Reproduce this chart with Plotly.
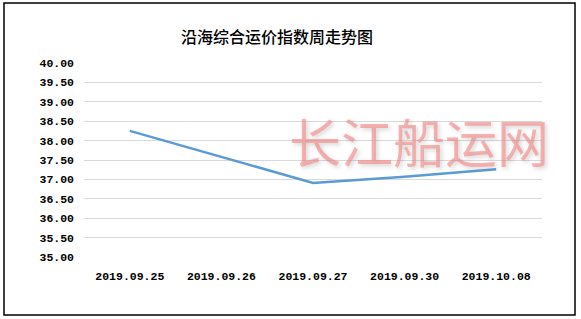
import plotly.graph_objects as go

categories = ["2019.09.25", "2019.09.26", "2019.09.27", "2019.09.30", "2019.10.08"]
values = [38.25, 37.58, 36.91, 37.07, 37.26]
y_ticks = [35.0, 35.5, 36.0, 36.5, 37.0, 37.5, 38.0, 38.5, 39.0, 39.5, 40.0]
title_text = "沿海综合运价指数周走势图"
watermark = "长江船运网"

W, H = 581, 319
L, R, T, B = 84, 542, 63, 257
pw, ph = R - L, B - T

fig = go.Figure()
fig.add_trace(go.Scatter(
    x=categories, y=values, mode="lines",
    line=dict(color="#5b9bd5", width=2.5),
    hoverinfo="skip", showlegend=False,
))

tick_font = dict(family="Liberation Mono, DejaVu Sans Mono, monospace", size=11.5,
                 color="#000", weight="bold")

fig.update_layout(
    width=W, height=H,
    margin=dict(l=L, r=W - R, t=T, b=H - B, pad=0),
    paper_bgcolor="white", plot_bgcolor="white",
    title=dict(text=title_text, x=(277) / W, xanchor="center", y=1 - 37 / H, yanchor="middle",
               font=dict(family="Noto Sans CJK SC", size=16, color="#000", weight=500)),
    xaxis=dict(type="category", range=[-0.5, 4.5], showgrid=False, zeroline=False,
               showline=False, ticks="", tickfont=tick_font, ticklabelstandoff=10),
    yaxis=dict(range=[35, 40], tickvals=y_ticks, ticktext=[f"{v:.2f}" for v in y_ticks],
               showgrid=True, gridcolor="#d9d9d9", gridwidth=1, zeroline=False,
               showline=False, ticks="", tickfont=tick_font, ticklabelstandoff=9),
)

fig.add_annotation(
    text=watermark, xref="paper", yref="paper",
    x=(419 - L) / pw, y=(B - 140) / ph, xanchor="center", yanchor="middle",
    showarrow=False,
    font=dict(family="Noto Sans CJK SC", size=52, color="rgba(245,130,130,0.6)",
              shadow="2px 2px 4px rgba(120,120,120,0.5)"),
)

fig.add_shape(
    type="rect", xref="paper", yref="paper",
    x0=(4 - L) / pw, x1=(575 - L) / pw, y0=(B - 315) / ph, y1=(B - 3) / ph,
    line=dict(color="#000", width=1.5), fillcolor="rgba(0,0,0,0)", layer="above",
)

fig.write_html("out.html")
